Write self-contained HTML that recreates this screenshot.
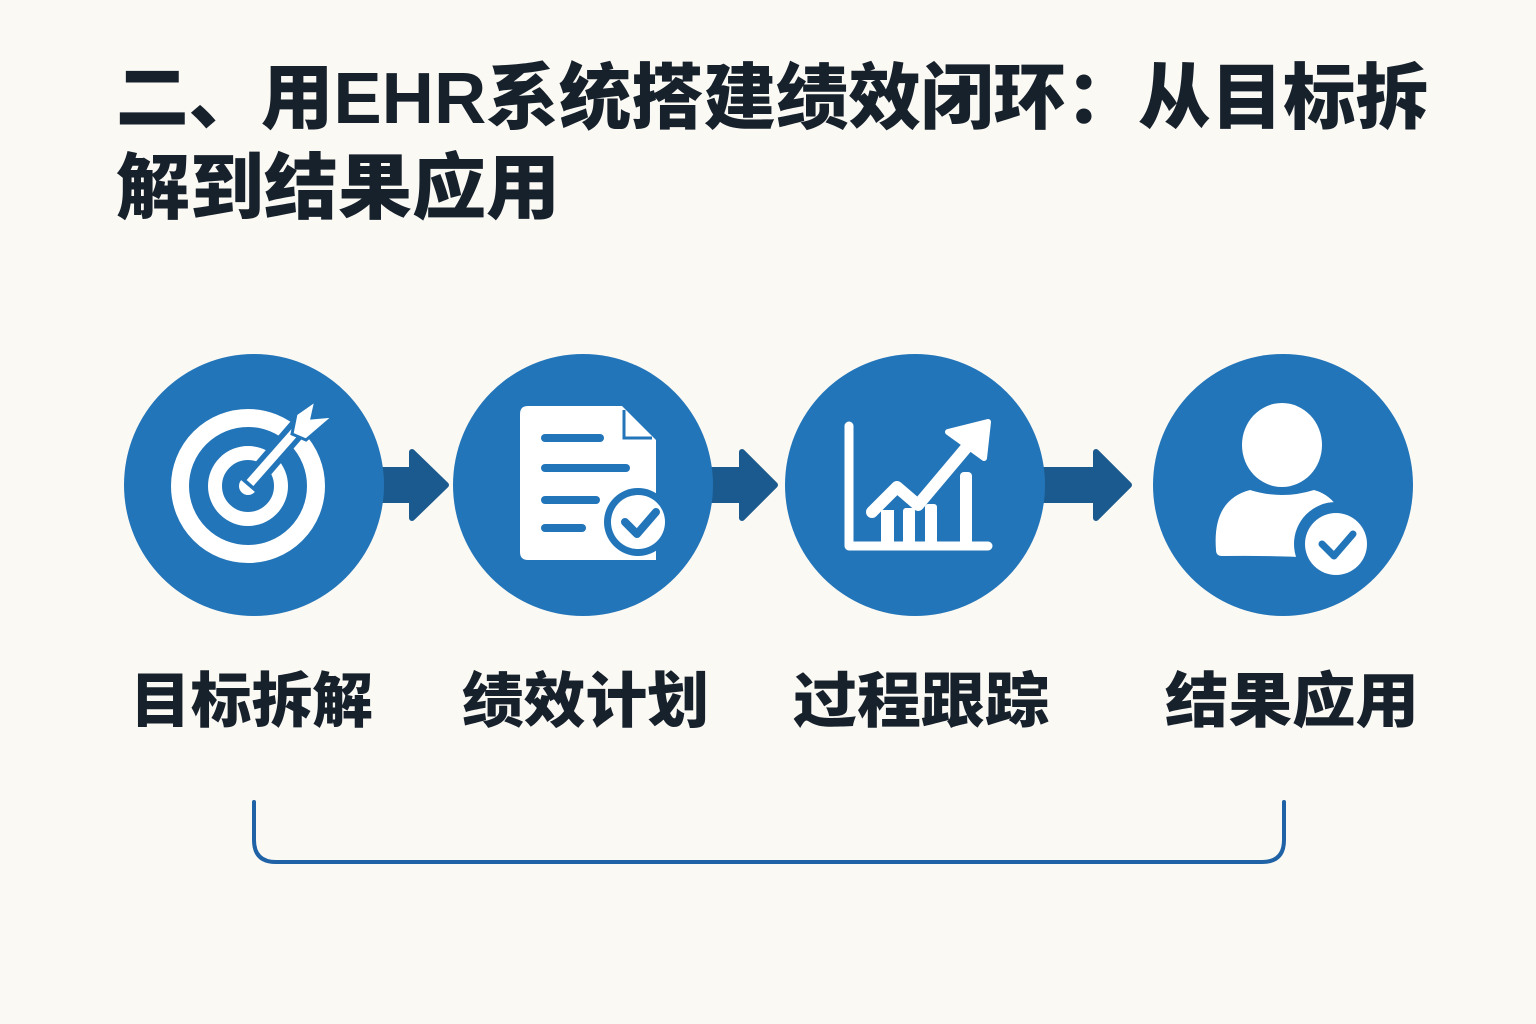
<!DOCTYPE html>
<html><head><meta charset="utf-8"><style>
html,body{margin:0;padding:0;background:#fbf9f4;}
svg{display:block}
text{font-family:"Liberation Sans","Noto Sans CJK SC",sans-serif;font-weight:900;fill:#17212c}
</style></head><body>
<svg width="1536" height="1024" viewBox="0 0 1536 1024" xmlns="http://www.w3.org/2000/svg">
<rect width="1536" height="1024" fill="#fbf9f4"/>
<text x="116" y="123" font-size="72" textLength="1312" lengthAdjust="spacingAndGlyphs">二、用EHR系统搭建绩效闭环：从目标拆</text>
<text x="116" y="213" font-size="72" textLength="444" lengthAdjust="spacingAndGlyphs">解到结果应用</text>

<!-- arrows -->
<g fill="#1b5a8e">
<rect x="380" y="467" width="35" height="36"/><path d="M412 452 L446 485 L412 518 Z" stroke="#1b5a8e" stroke-width="6" stroke-linejoin="round"/>
<rect x="708" y="467" width="35" height="36"/><path d="M742 452 L775 485 L742 518 Z" stroke="#1b5a8e" stroke-width="6" stroke-linejoin="round"/>
<rect x="1040" y="467" width="60" height="36"/><path d="M1096 452 L1129 485 L1096 518 Z" stroke="#1b5a8e" stroke-width="6" stroke-linejoin="round"/>
</g>

<g fill="#2375b9">
<ellipse cx="254" cy="485" rx="130" ry="131"/>
<ellipse cx="583" cy="485" rx="130" ry="131"/>
<ellipse cx="915" cy="485" rx="130" ry="131"/>
<ellipse cx="1283" cy="485" rx="130" ry="131"/>
</g>

<!-- target -->
<g fill="none" stroke="#fff">
<circle cx="248" cy="486" r="68" stroke-width="18"/>
<circle cx="248" cy="486" r="33" stroke-width="14"/>
</g>
<circle cx="248" cy="486" r="9" fill="#fff"/>
<path d="M248 486 L305 420" stroke="#2375b9" stroke-width="20"/>
<path d="M250 483 L302 424" stroke="#fff" stroke-width="9"/>
<path d="M296 414 L316 400 L312 418 L334 416 L306 440 L292 434 Z" fill="#fff" stroke="#2375b9" stroke-width="3"/>

<!-- document -->
<path d="M528 406 H622 L656 440 V560 H528 Q520 560 520 552 V414 Q520 406 528 406 Z" fill="#fff"/>
<path d="M624 410 L624 438 L652 438" fill="none" stroke="#2375b9" stroke-width="3"/>
<g stroke="#2375b9" stroke-width="8" stroke-linecap="round">
<line x1="545" y1="438" x2="600" y2="438"/>
<line x1="545" y1="468" x2="626" y2="468"/>
<line x1="545" y1="500" x2="596" y2="500"/>
<line x1="545" y1="528" x2="582" y2="528"/>
</g>
<circle cx="638" cy="522" r="34" fill="#2375b9"/>
<circle cx="638" cy="522" r="27" fill="#fff"/>
<path d="M625 522 L637 534 L656 512" fill="none" stroke="#2375b9" stroke-width="8" stroke-linecap="round" stroke-linejoin="round"/>

<!-- chart -->
<path d="M849 426 V546 H988" fill="none" stroke="#fff" stroke-width="9" stroke-linecap="round" stroke-linejoin="round"/>
<path d="M872 512 L897 487 L918 505 L966 448" fill="none" stroke="#fff" stroke-width="12" stroke-linecap="round" stroke-linejoin="round"/>
<path d="M948 432 L988 422 L984 458 Z" fill="#fff" stroke="#fff" stroke-width="6" stroke-linejoin="round"/>
<g fill="#fff">
<rect x="881" y="510" width="13" height="36"/><rect x="903" y="508" width="12" height="38" rx="3"/><rect x="925" y="504" width="12" height="42" rx="3"/><rect x="960" y="472" width="12" height="74" rx="4"/>
</g>

<!-- person -->
<ellipse cx="1282" cy="445" rx="40" ry="42" fill="#fff"/>
<path d="M1216 550 Q1212 500 1250 490 Q1282 500 1314 490 Q1350 500 1348 560 Q1290 555 1222 556 Q1216 556 1216 550 Z" fill="#fff"/>
<circle cx="1336" cy="544" r="42" fill="#2375b9"/>
<circle cx="1336" cy="544" r="31" fill="#fff"/>
<path d="M1322 544 L1334 556 L1353 534" fill="none" stroke="#2375b9" stroke-width="7" stroke-linecap="round" stroke-linejoin="round"/>

<!-- labels -->
<text x="130" y="722" font-size="60" textLength="243" lengthAdjust="spacingAndGlyphs">目标拆解</text>
<text x="462" y="722" font-size="60" textLength="247" lengthAdjust="spacingAndGlyphs">绩效计划</text>
<text x="793" y="722" font-size="60" textLength="256" lengthAdjust="spacingAndGlyphs">过程跟踪</text>
<text x="1165" y="722" font-size="60" textLength="254" lengthAdjust="spacingAndGlyphs">结果应用</text>

<!-- bracket -->
<path d="M254 802 V840 Q254 862 276 862 H1262 Q1284 862 1284 840 V802" fill="none" stroke="#1f62a6" stroke-width="4" stroke-linecap="round"/>
</svg>
</body></html>
